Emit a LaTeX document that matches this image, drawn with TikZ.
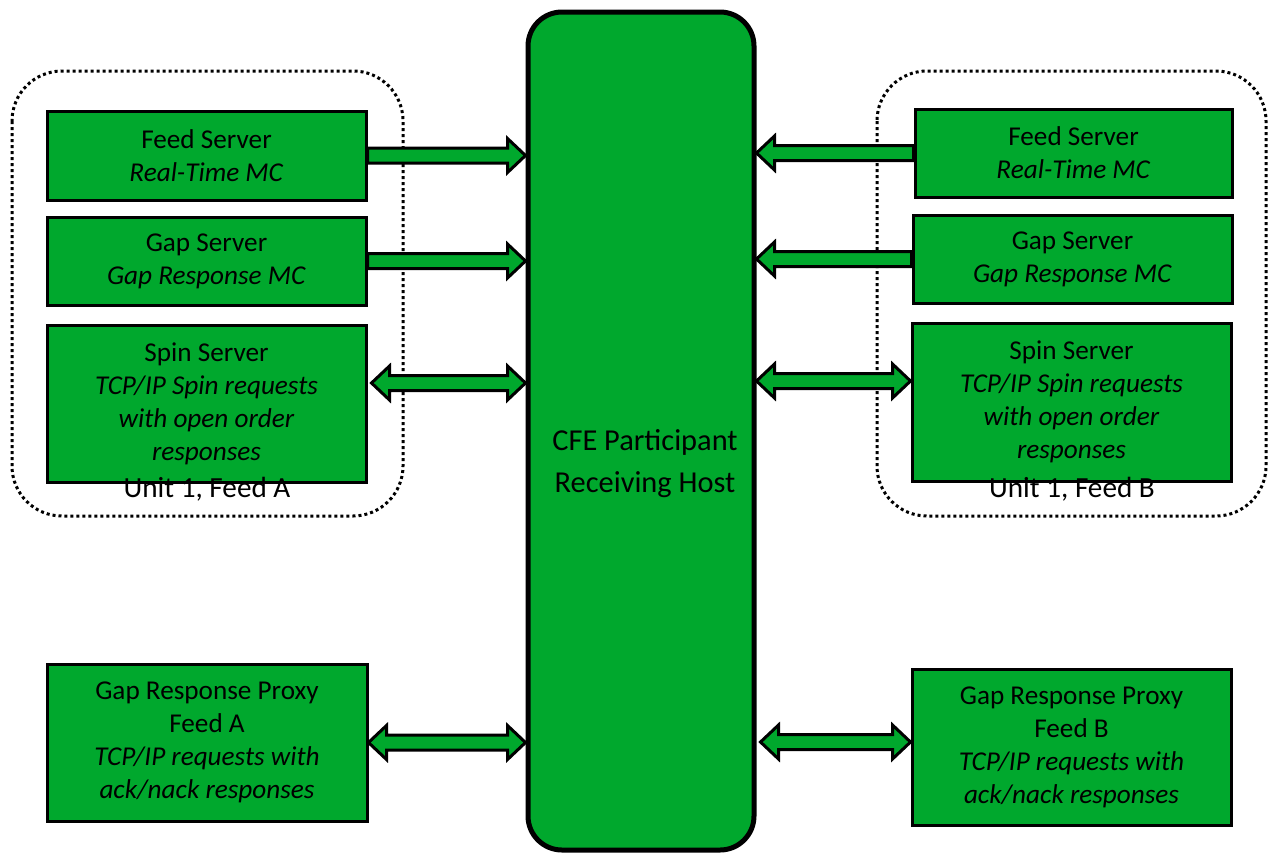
\documentclass[tikz,border=0pt]{standalone}
\usepackage{fontspec}
\setmainfont{Carlito}
\usetikzlibrary{calc}
\definecolor{boxgreen}{RGB}{0,168,45}
\tikzset{
  srv/.style={draw, line width=1.5pt, fill=boxgreen, align=center, inner sep=0pt,
    font=\fontsize{13.6}{16.5}\selectfont},
  hostbox/.style={draw, line width=2.5pt, fill=boxgreen, rounded corners=17pt, inner sep=0pt},
  blk/.style={draw, line width=1.5pt, fill=boxgreen, line join=miter},
  unitbox/.style={line width=1.5pt, dash pattern=on 1.5pt off 1.5pt, rounded corners=25pt},
  unitlbl/.style={font=\fontsize{14.6}{17}\selectfont, inner sep=0pt},
}
% one-headed block arrow from #1 to the x of #2
\newcommand\onearrow[2]{%
  \filldraw[blk] let \p1=(#1), \p2=(#2), \n1={sign(\x2-\x1)} in
    (\x1,\y1+3.75pt) -- (\x2-\n1*9pt,\y1+3.75pt) -- (\x2-\n1*9pt,\y1+8.5pt) -- (\x2,\y1)
    -- (\x2-\n1*9pt,\y1-8.5pt) -- (\x2-\n1*9pt,\y1-3.75pt) -- (\x1,\y1-3.75pt) -- cycle;}
% two-headed block arrow between #1 and the x of #2
\newcommand\twoarrow[2]{%
  \filldraw[blk] let \p1=(#1), \p2=(#2), \n1={sign(\x2-\x1)} in
    (\x1,\y1) -- (\x1+\n1*9pt,\y1+8.5pt) -- (\x1+\n1*9pt,\y1+3.75pt)
    -- (\x2-\n1*9pt,\y1+3.75pt) -- (\x2-\n1*9pt,\y1+8.5pt) -- (\x2,\y1)
    -- (\x2-\n1*9pt,\y1-8.5pt) -- (\x2-\n1*9pt,\y1-3.75pt)
    -- (\x1+\n1*9pt,\y1-3.75pt) -- (\x1+\n1*9pt,\y1-8.5pt) -- cycle;}
\begin{document}
\begin{tikzpicture}[x=0.5pt,y=-0.5pt]
  \useasboundingbox (0,0) rectangle (1268,852);
  % feed units
  \draw[unitbox] (12,71) rectangle (403,516);
  \draw[unitbox] (877,71) rectangle (1266,516);
  % receiving host
  \node[hostbox, minimum width=113pt, minimum height=419pt] (host) at (641,431) {};
  \node[font=\fontsize{15.2}{21}\selectfont, align=center] (hostlbl) at (645,464)
    {CFE Participant\\Receiving Host};
  % feed A
  \node[srv, minimum width=159.5pt, minimum height=44.5pt] (fsA) at (206.5,155.5)
    {Feed Server\\\textit{Real-Time MC}};
  \node[srv, minimum width=159.5pt, minimum height=44pt] (gsA) at (206.5,261)
    {Gap Server\\\textit{Gap Response MC}};
  \node[srv, minimum width=159.5pt, minimum height=78.5pt] (ssA) at (206.5,403.5)
    {Spin Server\\\textit{TCP/IP Spin requests}\\\textit{with open order}\\\textit{responses}};
  \node[srv, minimum width=160pt, minimum height=78.5pt] (gpA) at (207,742.5)
    {Gap Response Proxy\\Feed A\\\textit{TCP/IP requests with}\\\textit{ack/nack responses}};
  \node[unitlbl] (unitA) at (207,489) {Unit 1, Feed A};
  % feed B
  \node[srv, minimum width=158.5pt, minimum height=44pt] (fsB) at (1073.5,153)
    {Feed Server\\\textit{Real-Time MC}};
  \node[srv, minimum width=159.5pt, minimum height=44pt] (gsB) at (1072.5,259)
    {Gap Server\\\textit{Gap Response MC}};
  \node[srv, minimum width=159.5pt, minimum height=79pt] (ssB) at (1071.5,402)
    {Spin Server\\\textit{TCP/IP Spin requests}\\\textit{with open order}\\\textit{responses}};
  \node[srv, minimum width=159.5pt, minimum height=78pt] (gpB) at (1071.5,747)
    {Gap Response Proxy\\Feed B\\\textit{TCP/IP requests with}\\\textit{ack/nack responses}};
  \node[unitlbl] (unitB) at (1072,489) {Unit 1, Feed B};
  % links
  \onearrow{fsA.east}{host.west}
  \onearrow{gsA.east}{host.west}
  \twoarrow{[xshift=2pt,yshift=10.25pt]ssA.east}{host.west}
  \twoarrow{gpA.east}{host.west}
  \onearrow{fsB.west}{host.east}
  \onearrow{gsB.west}{host.east}
  \twoarrow{[yshift=10.5pt]ssB.west}{host.east}
  \twoarrow{[yshift=2.5pt]gpB.west}{[xshift=2pt]host.east}
\end{tikzpicture}
\end{document}
